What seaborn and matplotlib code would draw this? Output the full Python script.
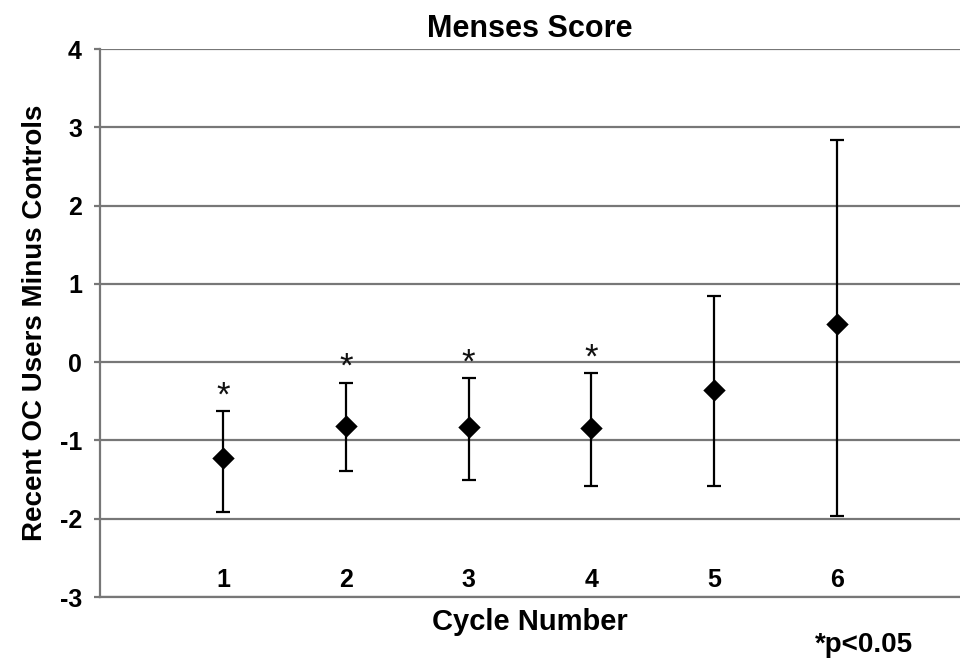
import numpy as np
import pandas as pd
import matplotlib
matplotlib.use('Agg')
import matplotlib.pyplot as plt
import seaborn as sns

# values
cycles = [1, 2, 3, 4, 5, 6]
mean_diff = [-1.23, -0.81, -0.83, -0.84, -0.35, 0.49]
ci_upper = [-0.63, -0.26, -0.20, -0.14, 0.85, 2.84]
ci_lower = [-1.92, -1.39, -1.51, -1.58, -1.58, -1.96]
significant = [True, True, True, True, False, False]
y_ticks = [-3, -2, -1, 0, 1, 2, 3, 4]

df = pd.DataFrame({'cycle': cycles, 'diff': mean_diff,
                   'upper': ci_upper, 'lower': ci_lower, 'sig': significant})

sns.set_theme(style='white')
plt.rcParams['font.family'] = ['Liberation Sans', 'DejaVu Sans']
plt.rcParams['axes.unicode_minus'] = False
plt.rcParams['text.color'] = 'black'
plt.rcParams['axes.labelcolor'] = 'black'

grid_col = '#777777'
fig = plt.figure(figsize=(9.6, 6.67), dpi=100)
ax = fig.add_axes([0.1042, 0.1049, 0.8958, 0.8216])

# error bars (CI) then diamond markers
yerr = np.array([df['diff'] - df['lower'], df['upper'] - df['diff']])
ax.errorbar(df['cycle'], df['diff'], yerr=yerr, fmt='none', ecolor='black',
            elinewidth=1.6, capsize=4.8, capthick=1.6, zorder=3)
sns.scatterplot(data=df, x='cycle', y='diff', marker='D', s=130, color='black',
                edgecolor='black', linewidth=0, ax=ax, zorder=4, legend=False)

# significance asterisks
for _, r in df[df['sig']].iterrows():
    ax.text(r['cycle'], r['upper'] - 0.02, '*', ha='center', va='bottom',
            fontsize=25, color='#111111')

ax.set_xlim(0, 7)
ax.set_ylim(-3, 4)
ax.set_yticks(y_ticks)
ax.set_xticks(cycles)
ax.set_xticklabels([str(c) for c in cycles])
ax.yaxis.grid(True, color=grid_col, linewidth=1.6)
ax.xaxis.grid(False)
ax.set_axisbelow(True)

for s in ['top', 'right']:
    ax.spines[s].set_visible(False)
for s in ['left', 'bottom']:
    ax.spines[s].set_color(grid_col)
    ax.spines[s].set_linewidth(1.6)

ax.tick_params(axis='y', length=4, width=1.6, color=grid_col, pad=9,
               labelsize=18, labelcolor='black', direction='out', left=True)
ax.tick_params(axis='x', length=0, pad=-21, labelsize=18, labelcolor='black')
for lab in ax.get_xticklabels() + ax.get_yticklabels():
    lab.set_fontweight('bold')

ax.set_xlabel('Cycle Number', fontsize=21, fontweight='bold', labelpad=8)
ax.set_ylabel('Recent OC Users Minus Controls', fontsize=20, fontweight='bold', labelpad=8)
ax.set_title('Menses Score', fontsize=22, fontweight='bold', pad=9)

fig.text(0.9, 0.033, '*p<0.05', ha='center', va='center', fontsize=20, fontweight='bold')

fig.savefig('out.png', dpi=100)
